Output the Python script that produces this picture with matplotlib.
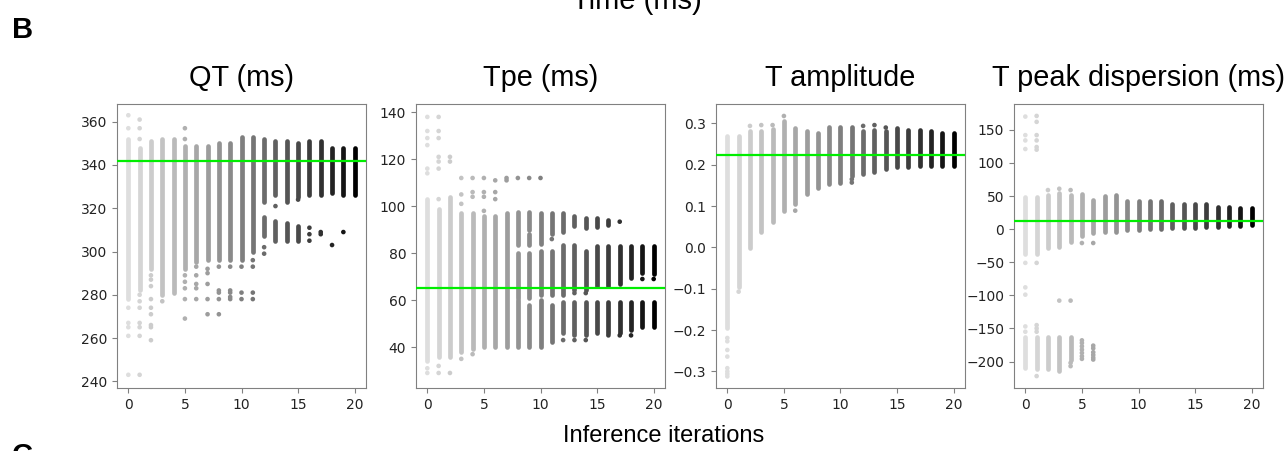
import matplotlib
matplotlib.use("Agg")
import matplotlib.pyplot as plt
import numpy as np

plt.rcParams.update({
    'font.family': 'DejaVu Sans',
    'axes.edgecolor': '#808080',
    'xtick.color': '#808080',
    'ytick.color': '#808080',
    'xtick.labelcolor': '#222222',
    'ytick.labelcolor': '#222222',
    'xtick.labelsize': 10,
    'ytick.labelsize': 10,
})

ITERACIONES = list(range(21))

# --- QT (ms): tramos densos (min, max) y puntos sueltos por iteracion ---
qt_tramos = [
    [(278, 352)], [(282, 348)], [(292, 351)], [(280, 352)], [(281, 352)],
    [(292, 349)], [(295, 349)], [(296, 349)], [(296, 350)], [(296, 350)],
    [(296, 353)], [(300, 353)], [(323, 352), (307, 316)], [(326, 351), (305, 314)],
    [(323, 351), (305, 313)], [(325, 350), (305, 312)], [(326, 351)], [(326, 351)],
    [(327, 348)], [(326, 348)], [(326, 348)],
]
qt_puntos = [
    [363, 357, 274, 267, 265, 261, 243],
    [361, 357, 352, 280, 277, 274, 267, 265, 261, 243],
    [289, 287, 284, 278, 274, 271, 266, 265, 259],
    [277],
    [],
    [357, 352, 289, 286, 283, 278, 269],
    [293, 289, 285, 283, 278],
    [292, 290, 285, 278, 271],
    [293, 282, 281, 278, 271],
    [293, 282, 281, 279, 278],
    [293, 281, 278],
    [296, 293, 281, 278],
    [302, 299],
    [321],
    [],
    [324],
    [311, 308, 305],
    [309, 308],
    [303],
    [309],
    [],
]
qt_ref = 341.8

# --- Tpe (ms) ---
tpe_tramos = [
    [(34, 103)], [(36, 99)], [(36, 104)], [(38, 97)], [(39, 97)],
    [(40, 96)], [(40, 96)], [(40, 97)],
    [(40, 60), (61, 80), (83.5, 97.5)],
    [(40, 58), (61, 80), (83.5, 88), (90, 97.5)],
    [(40, 60), (62, 81), (84, 97)],
    [(42, 58), (62, 81), (88, 97)],
    [(46, 59), (62, 83.5), (89, 97)],
    [(45, 59), (64.5, 83.5), (91.5, 95.7)],
    [(45, 59), (64.5, 81), (90.8, 95)],
    [(46, 59), (66, 83), (91, 95)],
    [(46, 59), (66, 83), (92, 94)],
    [(46, 59), (67, 83)],
    [(47.5, 59), (69.5, 83)],
    [(48.5, 59), (71.5, 83)],
    [(48.5, 59), (71, 83)],
]
tpe_puntos = [
    [138, 132, 129, 126, 116, 114, 31, 29],
    [138, 132, 129, 121, 119, 116, 103, 32, 29],
    [121, 119, 29],
    [112, 105, 101, 35],
    [112, 106, 104, 37],
    [112, 106, 104, 98],
    [111, 106, 103],
    [112, 111],
    [112],
    [112],
    [112],
    [86],
    [43],
    [63, 43],
    [63, 43],
    [],
    [45],
    [93.4, 45],
    [45],
    [69],
    [69],
]
tpe_ref = 65.1

# --- T amplitude ---
tamp_tramos = [
    [(-0.195, 0.27)], [(-0.095, 0.27)], [(-0.002, 0.282)], [(0.037, 0.282)],
    [(0.062, 0.286)], [(0.087, 0.306)], [(0.105, 0.29)], [(0.129, 0.282)],
    [(0.145, 0.278)], [(0.153, 0.292)], [(0.157, 0.292)], [(0.174, 0.292)],
    [(0.178, 0.282)], [(0.183, 0.285)], [(0.19, 0.282)], [(0.194, 0.288)],
    [(0.195, 0.285)], [(0.196, 0.285)], [(0.196, 0.282)], [(0.197, 0.278)],
    [(0.197, 0.278)],
]
tamp_puntos = [
    [-0.219, -0.227, -0.248, -0.264, -0.292, -0.300, -0.306, -0.312],
    [-0.107],
    [0.294],
    [0.296],
    [0.296],
    [0.318],
    [0.089],
    [], [], [], [],
    [0.165, 0.157],
    [0.294],
    [0.296],
    [0.29],
    [], [], [], [], [], [],
]
tamp_ref = 0.224

# --- T peak dispersion (ms) ---
tpk_tramos = [
    [(-38, 48), (-210, -163)], [(-38, 48), (-212, -163)],
    [(-28, 52), (-212, -163)], [(-27, 55), (-215, -163)],
    [(-19, 52), (-197, -163)],
    [(-11, 53)], [(-6, 44)], [(-5, 50)], [(-5, 52)], [(-1, 43)],
    [(-1, 42)], [(0, 42)], [(0, 42)], [(1.5, 38)], [(2, 38)],
    [(2, 38)], [(3, 38)], [(3, 34)], [(4, 34)], [(5, 32)], [(6, 32)],
]
tpk_puntos = [
    [170, 142, 134, 121, -51, -88, -99, -147, -155],
    [171, 162, 142, 134, 124, 120, -51, -145, -150, -155, -222],
    [59],
    [61, -108],
    [59, -108, -202, -207],
    [-21, -168, -172, -177, -182, -187, -192, -196],
    [-21, -176, -180, -186, -190, -194, -197],
    [], [], [], [], [], [], [], [], [], [], [], [], [], [],
]
tpk_ref = 12.5

PANELES = [
    ("QT (ms)", qt_tramos, qt_puntos, qt_ref, np.arange(240, 361, 20), (236.9, 368.2)),
    ("Tpe (ms)", tpe_tramos, tpe_puntos, tpe_ref, np.arange(40, 141, 20), (22.6, 143.5)),
    ("T amplitude", tamp_tramos, tamp_puntos, tamp_ref, np.round(np.arange(-0.3, 0.31, 0.1), 1), (-0.340, 0.347)),
    ("T peak dispersion (ms)", tpk_tramos, tpk_puntos, tpk_ref, np.arange(-200, 151, 50), (-240, 189)),
]


def gris(i):
    # de gris claro (iteracion 0) a negro (iteracion 20)
    g = 0.87 * (1 - i / 20) ** 0.8
    return (g, g, g)


fig = plt.figure(figsize=(12.86, 4.51), dpi=100)
izquierdas = [117, 416, 716, 1014]

for izq, (titulo, tramos, puntos, ref, yticks, ylim) in zip(izquierdas, PANELES):
    ax = fig.add_axes([izq / 1286, 63 / 451, 249 / 1286, 284 / 451])
    for i in ITERACIONES:
        c = gris(i)
        lo = [t[0] for t in tramos[i]]
        hi = [t[1] for t in tramos[i]]
        ax.vlines([i] * len(lo), lo, hi, colors=[c], linewidth=3.4,
                  capstyle='round', zorder=2)
        if puntos[i]:
            ax.scatter([i] * len(puntos[i]), puntos[i], s=11, color=c,
                       edgecolors='none', zorder=2)
    ax.axhline(ref, color='#00ee00', linewidth=1.6, zorder=3)
    ax.set_xlim(-1, 21)
    ax.set_ylim(*ylim)
    ax.set_xticks([0, 5, 10, 15, 20])
    ax.set_yticks(yticks)
    ax.set_title(titulo, family='Liberation Sans', fontsize=20.8, pad=13)

# textos de la figura (el de arriba y la "C" quedan cortados como en el original)
fig.text(637 / 1286, 1 - 9 / 451, "Time (ms)", family='Liberation Sans',
         fontsize=21, ha='center', va='baseline')
fig.text(12 / 1286, 1 - 38 / 451, "B", family='Liberation Sans',
         fontsize=21, fontweight='bold', ha='left', va='baseline')
fig.text(12 / 1286, -13 / 451, "C", family='Liberation Sans',
         fontsize=21, fontweight='bold', ha='left', va='baseline')
fig.text(664 / 1286, 9 / 451, "Inference iterations", family='Liberation Sans',
         fontsize=17, ha='center', va='baseline')

plt.savefig("out.png", dpi=100)
plt.close()
